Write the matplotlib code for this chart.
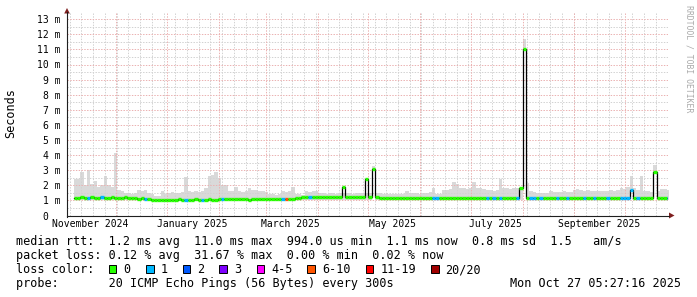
import numpy as np
import matplotlib
matplotlib.use('Agg')
import matplotlib.pyplot as plt
import matplotlib.dates as mdates
from matplotlib.patches import Rectangle, Polygon
from matplotlib.lines import Line2D
from matplotlib.transforms import blended_transform_factory
from datetime import datetime
import pandas as pd

nan = np.nan

# ---------------- data ----------------
START = datetime(2024, 11, 2, 9, 0)
END = datetime(2025, 10, 27, 5, 27, 16)
BIN_DAYS = 2

SMOKE_HI = [
    nan, nan, 2.4, 2.4, 2.9, 2.0, 3.0, 2.1, 2.3, 1.9,
    2.0, 2.6, 2.0, 1.9, 4.15, 1.7, 1.6, 1.5, 1.5, 1.45,
    1.5, 1.7, 1.65, 1.7, 1.5, 1.4, 1.3, 1.3, 1.6, 1.45,
    1.5, 1.55, 1.5, 1.5, 1.55, 2.55, 1.6, 1.55, 1.6, 1.55,
    1.6, 1.8, 2.6, 2.7, 2.85, 2.5, 2.05, 2.0, 1.6, 1.6,
    1.9, 1.6, 1.55, 1.6, 1.8, 1.7, 1.7, 1.6, 1.6, 1.55,
    1.4, 1.4, 1.35, 1.4, 1.6, 1.55, 1.65, 1.9, 1.4, 1.4,
    1.35, 1.6, 1.55, 1.6, 1.6, 1.5, 1.5, 1.45, 1.5, 1.5,
    1.45, 1.5, 1.5, 1.5, 1.5, 1.45, 1.5, 1.5, 1.45, 1.5,
    1.5, 3.27, 1.5, 1.5, 1.45, 1.4, 1.4, 1.4, 1.4, 1.45,
    1.4, 1.6, 1.5, 1.5, 1.5, 1.45, 1.5, 1.5, 1.55, 1.8,
    1.4, 1.4, 1.7, 1.7, 1.75, 2.2, 2.1, 1.8, 1.8, 1.75,
    1.85, 2.2, 1.85, 1.8, 1.75, 1.7, 1.7, 1.65, 1.7, 2.4,
    1.8, 1.8, 1.75, 1.8, 1.8, 1.85, 11.7, 2.15, 1.6, 1.55,
    1.5, 1.5, 1.5, 1.5, 1.6, 1.55, 1.55, 1.55, 1.6, 1.55,
    1.55, 1.7, 1.75, 1.7, 1.65, 1.7, 1.6, 1.6, 1.65, 1.6,
    1.65, 1.6, 1.7, 1.65, 1.7, 1.8, 1.75, 1.9, 2.6, 1.8,
    1.7, 2.6, 1.6, 1.6, 1.55, 3.37, 1.6, 1.75, 1.75, 1.7,
]

SMOKE_LO = [
    nan, nan, 1.05, 1.05, 1.05, 1.05, 1.05, 1.05, 1.05, 1.05,
    1.05, 1.05, 1.05, 1.05, 1.05, 1.05, 1.05, 1.05, 1.05, 1.05,
    1.05, 1.05, 1.05, 1.05, 1.05, 1.05, 1.05, 1.05, 1.05, 1.05,
    1.05, 1.05, 1.05, 1.05, 1.05, 1.05, 1.05, 1.05, 1.05, 1.05,
    1.05, 1.05, 1.05, 1.05, 1.05, 1.05, 1.05, 1.05, 1.05, 1.05,
    1.05, 1.05, 1.05, 1.05, 1.05, 1.05, 1.05, 1.05, 1.05, 1.05,
    1.05, 1.05, 1.05, 1.05, 1.05, 1.05, 1.05, 1.05, 1.05, 1.05,
    1.05, 1.05, 1.05, 1.05, 1.05, 1.05, 1.05, 1.05, 1.05, 1.05,
    1.05, 1.05, 1.05, 1.05, 1.05, 1.05, 1.05, 1.05, 1.05, 1.05,
    1.05, 3.05, 1.05, 1.05, 1.05, 1.05, 1.05, 1.05, 1.05, 1.05,
    1.05, 1.05, 1.05, 1.05, 1.05, 1.05, 1.05, 1.05, 1.05, 1.05,
    1.05, 1.05, 1.05, 1.05, 1.05, 1.05, 1.05, 1.05, 1.05, 1.05,
    1.05, 1.05, 1.05, 1.05, 1.05, 1.05, 1.05, 1.05, 1.05, 1.05,
    1.05, 1.05, 1.05, 1.05, 1.05, 1.05, 11.0, 1.05, 1.05, 1.05,
    1.05, 1.05, 1.05, 1.05, 1.05, 1.05, 1.05, 1.05, 1.05, 1.05,
    1.05, 1.05, 1.05, 1.05, 1.05, 1.05, 1.05, 1.05, 1.05, 1.05,
    1.05, 1.05, 1.05, 1.05, 1.05, 1.05, 1.05, 1.05, 1.7, 1.05,
    1.05, 1.05, 1.05, 1.05, 1.05, 2.9, 1.05, 1.05, 1.05, 1.05,
]

MEDIAN = [
    nan, nan, 1.15, 1.15, 1.2, 1.15, 1.15, 1.2, 1.15, 1.15,
    1.2, 1.15, 1.15, 1.2, 1.15, 1.15, 1.15, 1.2, 1.15, 1.15,
    1.15, 1.1, 1.15, 1.1, 1.1, 1.05, 1.05, 1.05, 1.05, 1.05,
    1.05, 1.05, 1.05, 1.1, 1.05, 1.05, 1.05, 1.05, 1.1, 1.05,
    1.05, 1.05, 1.1, 1.05, 1.05, 1.1, 1.1, 1.1, 1.1, 1.1,
    1.1, 1.1, 1.1, 1.1, 1.05, 1.1, 1.1, 1.1, 1.1, 1.1,
    1.1, 1.1, 1.1, 1.1, 1.1, 1.1, 1.1, 1.1, 1.15, 1.15,
    1.2, 1.2, 1.2, 1.2, 1.2, 1.2, 1.2, 1.2, 1.2, 1.2,
    1.2, 1.2, 1.9, 1.2, 1.2, 1.2, 1.2, 1.2, 1.2, 2.4,
    1.2, 3.05, 1.2, 1.15, 1.15, 1.15, 1.15, 1.15, 1.15, 1.15,
    1.15, 1.15, 1.15, 1.15, 1.15, 1.15, 1.15, 1.15, 1.15, 1.15,
    1.15, 1.15, 1.15, 1.15, 1.15, 1.15, 1.15, 1.15, 1.15, 1.15,
    1.15, 1.15, 1.15, 1.15, 1.15, 1.15, 1.15, 1.15, 1.15, 1.15,
    1.15, 1.15, 1.15, 1.15, 1.15, 1.8, 11.0, 1.15, 1.15, 1.15,
    1.15, 1.15, 1.15, 1.15, 1.15, 1.15, 1.15, 1.15, 1.15, 1.15,
    1.15, 1.15, 1.15, 1.15, 1.15, 1.15, 1.15, 1.15, 1.15, 1.15,
    1.15, 1.15, 1.15, 1.15, 1.15, 1.15, 1.15, 1.15, 1.7, 1.15,
    1.15, 1.15, 1.15, 1.15, 1.15, 2.9, 1.15, 1.15, 1.15, 1.15,
]

LOSS = [
    0, 0, 0, 0, 0, 0, 1, 0, 0, 0,
    1, 0, 0, 0, 0, 0, 0, 0, 0, 0,
    0, 0, 0, 1, 0, 0, 0, 0, 0, 0,
    0, 0, 0, 0, 0, 1, 0, 0, 0, 0,
    1, 0, 0, 0, 0, 0, 1, 0, 0, 0,
    0, 0, 0, 0, 0, 0, 0, 0, 0, 0,
    0, 0, 0, 0, 1, 5, 0, 0, 0, 0,
    0, 0, 1, 0, 0, 0, 0, 0, 0, 0,
    0, 0, 0, 0, 0, 0, 0, 0, 0, 0,
    0, 0, 0, 0, 0, 0, 0, 0, 0, 0,
    0, 0, 0, 0, 0, 0, 0, 0, 0, 1,
    1, 0, 0, 0, 0, 0, 0, 0, 0, 0,
    0, 0, 0, 0, 0, 1, 0, 1, 0, 1,
    0, 0, 0, 0, 1, 0, 0, 0, 1, 1,
    0, 1, 0, 0, 0, 0, 1, 0, 0, 1,
    0, 0, 0, 0, 1, 0, 0, 1, 0, 0,
    0, 1, 0, 0, 0, 1, 1, 1, 1, 0,
    1, 0, 0, 0, 0, 0, 0, 0, 0, 1,
]

LOSS_LABELS = ['0', '1', '2', '3', '4-5', '6-10', '11-19', '20/20']
LOSS_COLORS = ['#26ff00', '#00b8ff', '#0059ff', '#7e00ff',
               '#ff00ff', '#ff5500', '#ff0000', '#a00000']

Y_TICKS = list(range(0, 14))
MONTH_LABELS = ['November 2024', 'January 2025', 'March 2025',
                'May 2025', 'July 2025', 'September 2025']
MONTH_LABEL_DATES = [datetime(2024, 11, 16), datetime(2025, 1, 16),
                     datetime(2025, 3, 16), datetime(2025, 5, 16),
                     datetime(2025, 7, 16), datetime(2025, 9, 16)]

LEGEND_RTT = "median rtt:  1.2 ms avg  11.0 ms max  994.0 us min  1.1 ms now  0.8 ms sd  1.5   am/s"
LEGEND_LOSS = "packet loss: 0.12 % avg  31.67 % max  0.00 % min  0.02 % now"
LEGEND_COLOR = "loss color:"
LEGEND_PROBE = "probe:       20 ICMP Echo Pings (56 Bytes) every 300s"
STAMP = "Mon Oct 27 05:27:16 2025"
Y_LABEL = "Seconds"
WATERMARK = "RRDTOOL / TOBI OETIKER"

# ---------------- layout ----------------
W, H = 697, 297
MONO = 'DejaVu Sans Mono'


def fx(px):
    return px / W


def fy(py):
    return 1 - py / H


fig = plt.figure(figsize=(W / 100, H / 100), dpi=100)
fig.patch.set_facecolor('white')

X0, X1, YB, YT = 67, 668, 215.5, 13
ax = fig.add_axes([fx(X0), fy(YB), (X1 - X0) / W, (YB - YT) / H])
ax.set_axis_off()
PX_PER_MS = 15.1
ax.set_ylim(0, (YB - YT) / PX_PER_MS)
t0 = mdates.date2num(START)
t1 = mdates.date2num(END)
ax.set_xlim(t0, t1)

edges = t0 + np.arange(len(MEDIAN) + 1) * BIN_DAYS
med = np.array(MEDIAN, dtype=float)
hi = np.array(SMOKE_HI, dtype=float)
lo = np.array(SMOKE_LO, dtype=float)

# smoke
ax.fill_between(edges, np.append(lo, lo[-1]), np.append(hi, hi[-1]),
                step='post', color='#d9d9d9', lw=0, zorder=1)

# grid
GRID_C = '#d2d2d2'
MGRID_C = '#ebb2b2'
ls = (0, (1.4, 1.4))
for v in np.arange(0.5, 13.5, 1.0):
    ax.axhline(v, color=GRID_C, lw=0.72, ls=ls, zorder=2)
for d in pd.date_range(START, END, freq='W-MON').normalize():
    ax.axvline(mdates.date2num(d.to_pydatetime()), color=GRID_C, lw=0.72, ls=ls, zorder=2)
for v in range(1, 14):
    ax.axhline(v, color=MGRID_C, lw=0.72, ls=ls, zorder=2)
for d in pd.date_range(START, END, freq='MS'):
    ax.axvline(mdates.date2num(d.to_pydatetime()), color=MGRID_C, lw=0.72, ls=ls, zorder=2)

# median outline (black steps) and loss-coloured median
ax.plot(edges, np.append(med, med[-1]), drawstyle='steps-post',
        color='black', lw=0.9, zorder=3)
ax.hlines(med, edges[:-1], edges[1:], colors=[LOSS_COLORS[l] for l in LOSS],
          lw=2.4, capstyle='butt', zorder=4)

# axes lines & arrows
AX_C = '#1f1f1f'
ARROW_C = '#7f1f1f'
fig.add_artist(Line2D([fx(X0), fx(669)], [fy(YB), fy(YB)], color=AX_C, lw=0.8))
fig.add_artist(Line2D([fx(X0), fx(X0)], [fy(YB + 1), fy(12)], color=AX_C, lw=0.8))
fig.add_artist(Polygon([(fx(64.2), fy(13.5)), (fx(69.8), fy(13.5)), (fx(67), fy(8))],
                       closed=True, transform=fig.transFigure, color=ARROW_C, lw=0))
fig.add_artist(Polygon([(fx(669), fy(YB - 3)), (fx(669), fy(YB + 3)), (fx(674.5), fy(YB))],
                       closed=True, transform=fig.transFigure, color=ARROW_C, lw=0))

# y tick labels
ytr = blended_transform_factory(fig.transFigure, ax.transData)
for v in Y_TICKS:
    if v == 0:
        ax.text(fx(48.6), v, '0', transform=ytr, ha='right', va='center_baseline',
                fontsize=7, family=MONO, color='black')
    else:
        ax.text(fx(60.6), v, f'{v} m', transform=ytr, ha='right', va='center_baseline',
                fontsize=7, family=MONO, color='black')

# x tick labels
xtr = blended_transform_factory(ax.transData, fig.transFigure)
for d, lab in zip(MONTH_LABEL_DATES, MONTH_LABELS):
    ax.text(mdates.date2num(d), fy(227.3), lab, transform=xtr, ha='center',
            va='baseline', fontsize=7, family=MONO)

# y label & watermark
fig.text(fx(10.5), fy(113), Y_LABEL, rotation=90, ha='center', va='center',
         fontsize=8.5, family=MONO)
fig.text(fx(688.5), fy(59), WATERMARK, rotation=270, ha='center', va='center',
         fontsize=5.9, family=MONO, color='#aaaaaa')

# legend
LX = 16
fig.text(fx(LX), fy(245), LEGEND_RTT, fontsize=8.5, family=MONO, va='baseline')
fig.text(fx(LX), fy(259), LEGEND_LOSS, fontsize=8.5, family=MONO, va='baseline')
fig.text(fx(LX), fy(273.3), LEGEND_COLOR, fontsize=8.5, family=MONO, va='baseline')
fig.text(fx(LX), fy(287.3), LEGEND_PROBE, fontsize=8.5, family=MONO, va='baseline')
fig.text(fx(680.5), fy(287.3), STAMP, fontsize=8.5, family=MONO, va='baseline', ha='right')

SQ_X = [108.7, 146.0, 182.7, 219.3, 256.7, 307.3, 365.7, 431.0]
for sx, lab, col in zip(SQ_X, LOSS_LABELS, LOSS_COLORS):
    fig.add_artist(Rectangle((fx(sx), fy(272.7)), 7.5 / W, 8 / H,
                             transform=fig.transFigure, facecolor=col,
                             edgecolor='black', lw=0.7))
    fig.text(fx(sx + 14.6), fy(273.3), lab, fontsize=8.5, family=MONO, va='baseline')

fig.savefig('out.png', dpi=100, facecolor='white')
